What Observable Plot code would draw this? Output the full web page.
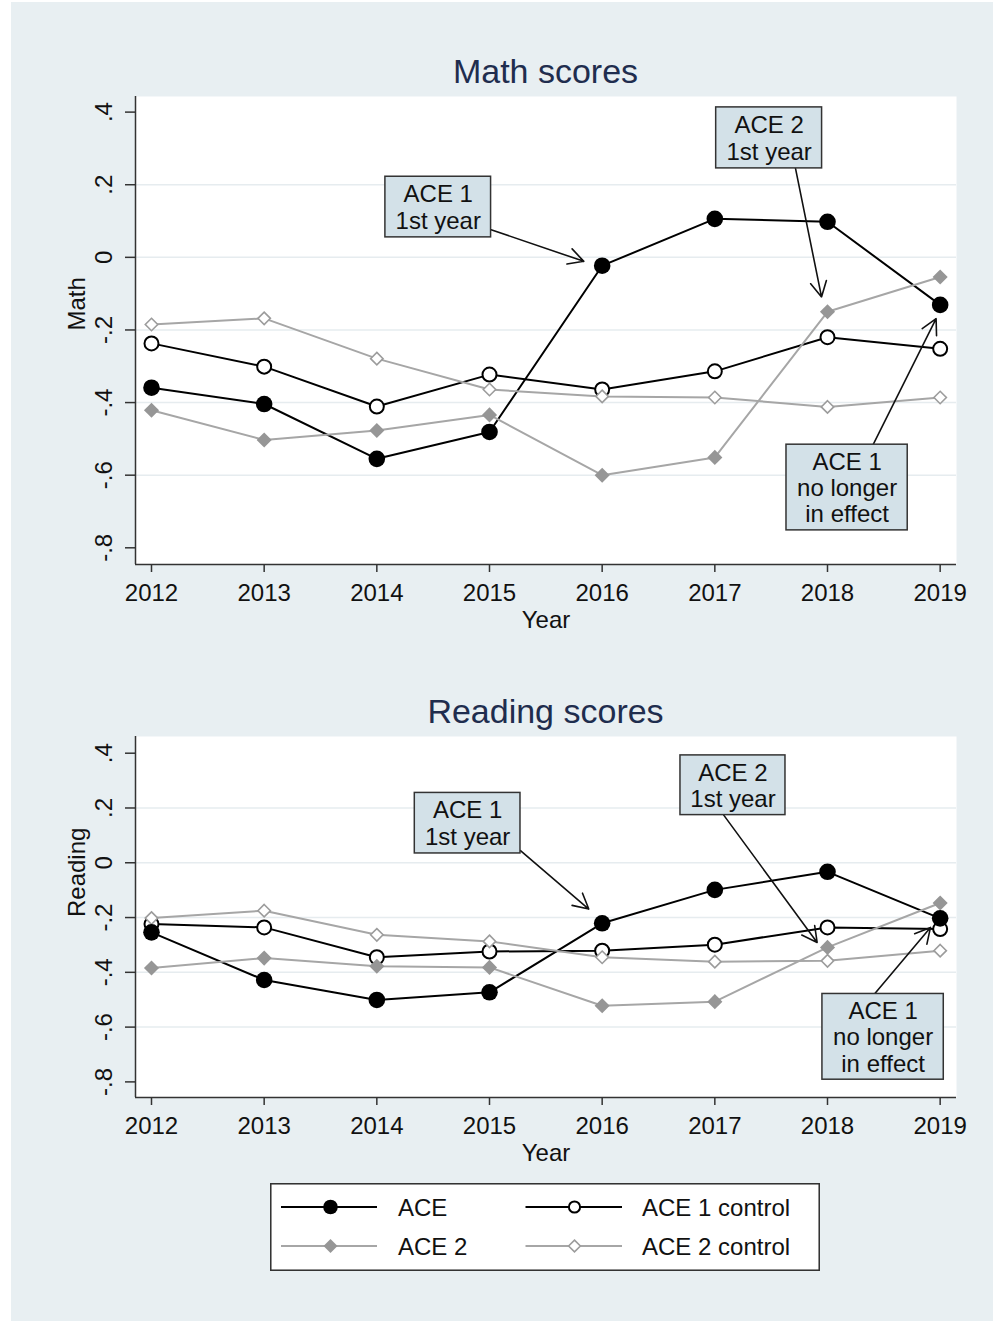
<!DOCTYPE html>
<html><head><meta charset="utf-8">
<script src="https://cdn.jsdelivr.net/npm/d3@7"></script>
<script src="https://cdn.jsdelivr.net/npm/@observablehq/plot@0.6"></script>
<style>
html,body{margin:0;padding:0;background:#fff;}
body{width:994px;height:1321px;position:relative;overflow:hidden;font-family:"Liberation Sans",Arial,Helvetica,sans-serif;}
#panel{position:absolute;left:11px;top:2px;width:982px;height:1319px;background:#e8eff2;}
.title{position:absolute;left:135px;width:821px;text-align:center;font-size:34px;line-height:34px;color:#1f2d4e;white-space:nowrap;}
.chart{position:absolute;left:0;}
#legend{position:absolute;left:270px;top:1183px;}
</style></head><body>
<div id="panel"></div>
<div class="title" style="top:54px">Math scores</div>
<div id="math" class="chart" style="top:90px"></div>
<div class="title" style="top:694px">Reading scores</div>
<div id="reading" class="chart" style="top:730px"></div>
<div id="legend"></div>
<script>
// ---- data ----
const years = [2012, 2013, 2014, 2015, 2016, 2017, 2018, 2019];
const seriesNames = ["ACE", "ACE 1 control", "ACE 2", "ACE 2 control"];

const mathACE         = [-0.359, -0.404, -0.555, -0.481, -0.023,  0.106,  0.098, -0.131];
const mathACE1Control = [-0.237, -0.301, -0.411, -0.323, -0.364, -0.314, -0.220, -0.252];
const mathACE2        = [-0.421, -0.503, -0.477, -0.434, -0.600, -0.551, -0.150, -0.054];
const mathACE2Control = [-0.185, -0.168, -0.279, -0.364, -0.383, -0.386, -0.412, -0.386];

const readACE         = [-0.254, -0.428, -0.501, -0.473, -0.221, -0.099, -0.033, -0.203];
const readACE1Control = [-0.224, -0.236, -0.345, -0.324, -0.321, -0.299, -0.236, -0.242];
const readACE2        = [-0.384, -0.348, -0.378, -0.382, -0.522, -0.507, -0.309, -0.147];
const readACE2Control = [-0.202, -0.175, -0.263, -0.287, -0.345, -0.361, -0.358, -0.321];

const yTicks = [0.4, 0.2, 0, -0.2, -0.4, -0.6, -0.8];
const gridTicks = [0.2, 0, -0.2, -0.4, -0.6];
const xTicks = years;

const noteTexts = ["ACE 1\n1st year", "ACE 2\n1st year", "ACE 1\nno longer\nin effect"];
// annotation boxes and arrows in data units (year, score)
const mathBoxes = [
  {x1: 2014.076, x2: 2015.014, y1: 0.222, y2: 0.055},
  {x1: 2017.012, x2: 2017.952, y1: 0.413, y2: 0.245},
  {x1: 2017.636, x2: 2018.712, y1: -0.516, y2: -0.752}
];
const mathArrows = [
  {x1: 2015.014, y1: 0.076, x2: 2015.837, y2: -0.011},
  {x1: 2017.716, y1: 0.245, x2: 2017.947, y2: -0.109},
  {x1: 2018.405, y1: -0.516, x2: 2018.964, y2: -0.169}
];
const readBoxes = [
  {x1: 2014.337, x2: 2015.275, y1: 0.255, y2: 0.034},
  {x1: 2016.695, x2: 2017.627, y1: 0.392, y2: 0.174},
  {x1: 2017.955, x2: 2019.032, y1: -0.479, y2: -0.792}
];
const readArrows = [
  {x1: 2015.275, y1: 0.044, x2: 2015.881, y2: -0.169},
  {x1: 2017.079, y1: 0.174, x2: 2017.908, y2: -0.291},
  {x1: 2018.417, y1: -0.479, x2: 2018.914, y2: -0.236}
];

// ---- styles ----
const GRAY_LINE = "#a6a6a6";
const seriesStyle = {
  "ACE":           {line: "#000", symbol: "circle",   fill: "#000", stroke: "none", sw: 0,   r: 8.3, lr: 7.3},
  "ACE 1 control": {line: "#000", symbol: "circle",   fill: "#fff", stroke: "#000", sw: 2,   r: 7,   lr: 5.6},
  "ACE 2":         {line: GRAY_LINE, symbol: "diamond2", fill: "#969696", stroke: "none", sw: 0, r: 6.8, lr: 6.3},
  "ACE 2 control": {line: GRAY_LINE, symbol: "diamond2", fill: "#fff", stroke: "#9c9c9c", sw: 1.6, r: 5.6, lr: 5.3}
};
const markerOrder = ["ACE 1 control", "ACE 2 control", "ACE 2", "ACE"];
const FONT = "Liberation Sans, Arial, Helvetica, sans-serif";

function longTable(arrs) {
  const rows = [];
  seriesNames.forEach((name, k) => years.forEach((yr, i) => rows.push({series: name, year: yr, value: arrs[k][i]})));
  return rows;
}

function fmt(d) {
  if (d === 0) return "0";
  return (d < 0 ? "-" : "") + String(Math.abs(d)).replace(/^0/, "");
}

function chart({arrs, yDomain, height, label, boxes, arrows}) {
  const rows = longTable(arrs);
  const xDomain = [2011.858, 2019.145];
  const notes = boxes.map((b, i) => ({...b, text: noteTexts[i], cx: (b.x1 + b.x2) / 2, cy: (b.y1 + b.y2) / 2}));
  const marks = [
    Plot.frame({fill: "white", stroke: "none"}),
    Plot.ruleY(gridTicks, {stroke: "#e6ecef", strokeWidth: 1.5}),
    Plot.axisY({ticks: yTicks, tickSize: 10, tickPadding: 14, tickFormat: fmt, tickRotate: -90,
      textAnchor: "middle", lineAnchor: "bottom", label: null, fontSize: 24, stroke: "#333", strokeWidth: 1.5, fill: "#111"}),
    Plot.axisX({ticks: xTicks, tickSize: 8, tickPadding: 11, tickFormat: d => String(d), label: null,
      fontSize: 24, stroke: "#333", strokeWidth: 1.5, fill: "#111"}),
    Plot.ruleX([xDomain[0]], {stroke: "#333", strokeWidth: 1.5}),
    Plot.ruleY([yDomain[0]], {stroke: "#333", strokeWidth: 1.5}),
    Plot.text(["Year"], {frameAnchor: "bottom", lineAnchor: "top", dy: 46, fontSize: 24, fill: "#111"}),
    Plot.text([label], {frameAnchor: "left", rotate: -90, lineAnchor: "bottom", dx: -51, fontSize: 24, fill: "#111"})
  ];
  for (const name of seriesNames) {
    const s = seriesStyle[name];
    marks.push(Plot.line(rows.filter(d => d.series === name), {x: "year", y: "value", stroke: s.line, strokeWidth: 2}));
  }
  for (const name of markerOrder) {
    const s = seriesStyle[name];
    marks.push(Plot.dot(rows.filter(d => d.series === name), {x: "year", y: "value", symbol: s.symbol, r: s.r,
      fill: s.fill, stroke: s.stroke, strokeWidth: s.sw}));
  }
  marks.push(
    Plot.arrow(arrows, {x1: "x1", y1: "y1", x2: "x2", y2: "y2", stroke: "#111", strokeWidth: 1.6, headLength: 16, headAngle: 56}),
    Plot.rect(notes, {x1: "x1", x2: "x2", y1: "y1", y2: "y2", fill: "#d3e1e8", stroke: "#333", strokeWidth: 1.5}),
    Plot.text(notes, {x: "cx", y: "cy", text: "text", lineAnchor: "middle", lineHeight: 1.1, fontSize: 24, fill: "#111"})
  );
  return Plot.plot({
    width: 994, height,
    marginLeft: 135, marginRight: 38, marginTop: 6, marginBottom: 76,
    style: {fontFamily: FONT, fontSize: "24px", background: "transparent", color: "#111", overflow: "visible"},
    x: {domain: xDomain},
    y: {domain: yDomain},
    marks
  });
}

document.getElementById("math").append(chart({
  arrs: [mathACE, mathACE1Control, mathACE2, mathACE2Control],
  yDomain: [-0.846, 0.443], height: 550, label: "Math",
  boxes: mathBoxes, arrows: mathArrows
}));
document.getElementById("reading").append(chart({
  arrs: [readACE, readACE1Control, readACE2, readACE2Control],
  yDomain: [-0.857, 0.461], height: 443, label: "Reading",
  boxes: readBoxes, arrows: readArrows
}));

// ---- legend ----
(function legend() {
  const W = 550, H = 88;
  const svg = d3.create("svg").attr("width", W).attr("height", H)
    .style("font-family", FONT).style("display", "block");
  svg.append("rect").attr("x", 0.75).attr("y", 0.75).attr("width", W - 1.5).attr("height", H - 1.5)
    .attr("fill", "#fff").attr("stroke", "#333").attr("stroke-width", 1.6);
  const cols = [{x0: 11, x1: 107, m: 60.5, t: 128}, {x0: 255.5, x1: 352, m: 304.5, t: 372}];
  const rowsY = [24, 63];
  seriesNames.forEach((name, i) => {
    const s = seriesStyle[name];
    const c = cols[i % 2], y = rowsY[Math.floor(i / 2)];
    svg.append("line").attr("x1", c.x0).attr("x2", c.x1).attr("y1", y).attr("y2", y)
      .attr("stroke", s.line).attr("stroke-width", 2);
    const sym = s.symbol === "circle" ? d3.symbolCircle : d3.symbolDiamond2;
    svg.append("path").attr("transform", `translate(${c.m},${y})`)
      .attr("d", d3.symbol(sym, s.lr * s.lr * Math.PI)())
      .attr("fill", s.fill).attr("stroke", s.stroke).attr("stroke-width", s.sw);
    svg.append("text").attr("x", c.t).attr("y", y + 8.6).attr("font-size", 24).attr("fill", "#111").text(name);
  });
  document.getElementById("legend").append(svg.node());
})();
</script>
</body></html>
